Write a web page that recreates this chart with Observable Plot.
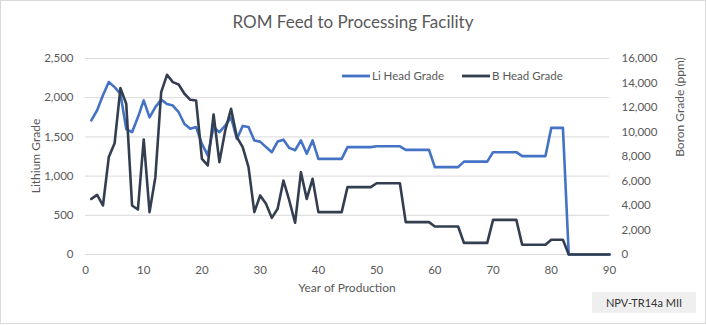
<!DOCTYPE html>
<html><head><meta charset="utf-8">
<script src="https://cdn.jsdelivr.net/npm/d3@7"></script>
<script src="https://cdn.jsdelivr.net/npm/@observablehq/plot@0.6"></script>
<style>
html,body{margin:0;padding:0;background:#fff;}
#chart{width:706px;height:325px;}
</style></head><body><div id="chart"></div>
<script>
const years = [1,2,3,4,5,6,7,8,9,10,11,12,13,14,15,16,17,18,19,20,21,22,23,24,25,26,27,28,29,30,
  31,32,33,34,35,36,37,38,39,40,41,42,43,44,45,46,47,48,49,50,51,52,53,54,55,56,57,58,59,60,
  61,62,63,64,65,66,67,68,69,70,71,72,73,74,75,76,77,78,79,80,81,82,83,84,85,86,87,88,89,90];
const liGrade = [1710,1840,2030,2200,2135,2050,1600,1560,1750,1965,1750,1880,1975,1920,1900,1815,1665,1605,1625,1410,
  1265,1625,1560,1645,1750,1475,1640,1625,1455,1440,1370,1305,1440,1465,1360,1330,1455,1285,1455,1220,
  1220,1220,1220,1220,1370,1370,1370,1370,1370,1380,1380,1380,1380,1380,1335,1335,1335,1335,1335,1115,
  1115,1115,1115,1115,1185,1185,1185,1185,1185,1305,1305,1305,1305,1305,1255,1255,1255,1255,1255,1615,
  1615,1615,0,0,0,0,0,0,0,0];
const bGrade = [4540,4870,4000,7950,9090,13580,12300,4000,3670,9390,3460,6310,13250,14670,14070,13880,13120,12630,12570,7810,
  7270,11430,7540,10120,11890,9580,8760,7130,3460,4820,4140,2990,3730,6040,4410,2590,6720,4540,6180,3460,
  3460,3460,3460,3460,5500,5500,5500,5500,5500,5820,5820,5820,5820,5820,2640,2640,2640,2640,2640,2290,
  2290,2290,2290,2290,950,950,950,950,950,2830,2830,2830,2830,2830,790,790,790,790,790,1200,
  1200,1200,0,0,0,0,0,0,0,0];
const liTicks = [0,500,1000,1500,2000,2500];
const bTicks = [0,2000,4000,6000,8000,10000,12000,14000,16000];
const xTicks = [0,10,20,30,40,50,60,70,80,90];
const seriesNames = ["Li Head Grade","B Head Grade"];
const seriesColors = ["#4472C4","#333F50"];
const titleText = "ROM Feed to Processing Facility";
const xTitle = "Year of Production";
const yLeftTitle = "Lithium Grade";
const yRightTitle = "Boron Grade (ppm)";
const noteText = "NPV-TR14a MII";

const ratio = 2500 / 16000;
const rows = years.map((yr, i) => ({year: yr, li: liGrade[i], b: bGrade[i]}));
const font = "Lato, 'Open Sans', sans-serif";
const grey = "#595959";

const plot = Plot.plot({
  width: 706, height: 325,
  marginLeft: 85, marginRight: 97, marginTop: 58, marginBottom: 71,
  style: {fontFamily: font, fontSize: "11.5px", color: grey, background: "#fff", overflow: "visible"},
  x: {domain: [0, 90]},
  y: {domain: [0, 2500]},
  marks: [
    Plot.gridY(liTicks, {stroke: "#d9d9d9", strokeOpacity: 1}),
    Plot.axisY(liTicks, {anchor: "left", tickSize: 0, tickPadding: 12, tickFormat: d3.format(","), label: null, fill: grey}),
    Plot.axisY(bTicks.map(v => v * ratio), {anchor: "right", tickSize: 0, tickPadding: 12,
      tickFormat: d => d3.format(",")(Math.round(d / ratio)), label: null, fill: grey}),
    Plot.axisX(xTicks, {tickSize: 0, tickPadding: 11, label: null, fill: grey}),
    Plot.lineY(rows, {x: "year", y: "li", stroke: seriesColors[0], strokeWidth: 2.6}),
    Plot.lineY(rows, {x: "year", y: d => d.b * ratio, stroke: seriesColors[1], strokeWidth: 2.6})
  ]
});
document.getElementById("chart").appendChild(plot);

const svg = d3.select(plot);
svg.append("rect").attr("x", 0.5).attr("y", 0.5).attr("width", 705).attr("height", 323)
  .attr("fill", "none").attr("stroke", "#d9d9d9");
svg.append("text").attr("x", 353).attr("y", 28).attr("text-anchor", "middle")
  .attr("font-size", 17).attr("fill", grey).text(titleText);
svg.append("text").attr("x", 347).attr("y", 292).attr("text-anchor", "middle")
  .attr("font-size", 12).attr("fill", grey).text(xTitle);
svg.append("text").attr("transform", "translate(40,156) rotate(-90)").attr("text-anchor", "middle")
  .attr("font-size", 12).attr("fill", grey).text(yLeftTitle);
svg.append("text").attr("transform", "translate(684,107) rotate(-90)").attr("text-anchor", "middle")
  .attr("font-size", 12).attr("fill", grey).text(yRightTitle);

// legend
const legX = [342, 462];
seriesNames.forEach((name, i) => {
  svg.append("line").attr("x1", legX[i]).attr("x2", legX[i] + 28).attr("y1", 76).attr("y2", 76)
    .attr("stroke", seriesColors[i]).attr("stroke-width", 2.8);
  svg.append("text").attr("x", legX[i] + 30).attr("y", 80).attr("text-anchor", "start")
    .attr("font-size", 11.5).attr("fill", grey).text(name);
});

// note box
svg.append("rect").attr("x", 592).attr("y", 292).attr("width", 104).attr("height", 21).attr("fill", "#efefef");
svg.append("text").attr("x", 644).attr("y", 306.5).attr("text-anchor", "middle")
  .attr("font-size", 11).attr("fill", "#333").text(noteText);
</script>
</body></html>
